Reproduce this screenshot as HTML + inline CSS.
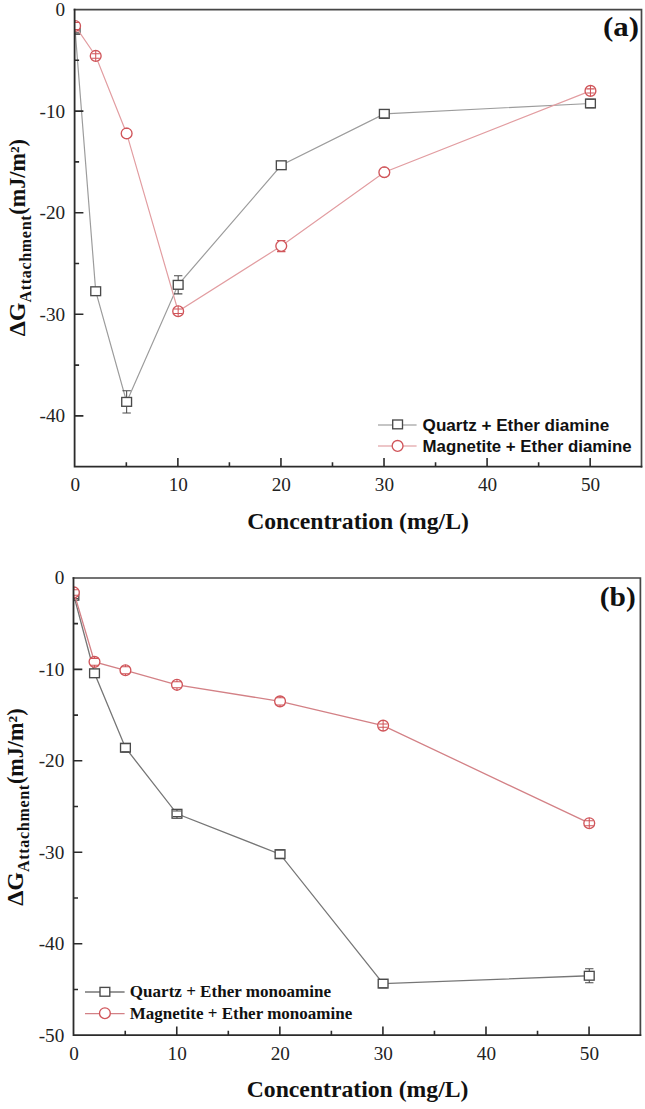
<!DOCTYPE html>
<html><head><meta charset="utf-8"><title>Figure</title>
<style>
html,body{margin:0;padding:0;background:#fff}
body{width:645px;height:1109px;overflow:hidden;font-family:"Liberation Serif",serif}
svg{display:block}
.tk{font:19.2px "Liberation Serif",serif;fill:#222}
</style></head><body>
<svg width="645" height="1109" viewBox="0 0 645 1109">
<rect width="645" height="1109" fill="#fff"/>
<!-- panel a -->
<clipPath id="clipa"><rect x="74.6" y="9.5" width="572.9" height="457.2"/></clipPath>
<g clip-path="url(#clipa)">
<polyline points="75.10,29.82 95.71,291.24 126.64,401.88 178.17,284.84 281.25,165.25 384.32,113.84 590.46,103.48" fill="none" stroke="#9c9c9c" stroke-width="1.2"/>
<rect x="70.20" y="25.42" width="9.8" height="8.8" fill="#fff" stroke="#4a4a4a" stroke-width="1.35"/>
<path d="M70.90 26.77H79.30M75.10 25.42V26.77" stroke="#4a4a4a" stroke-width="1.05" fill="none"/>
<path d="M70.90 32.87H79.30M75.10 34.22V32.87" stroke="#4a4a4a" stroke-width="1.05" fill="none"/>
<rect x="90.81" y="286.84" width="9.8" height="8.8" fill="#fff" stroke="#4a4a4a" stroke-width="1.35"/>
<rect x="121.74" y="397.48" width="9.8" height="8.8" fill="#fff" stroke="#4a4a4a" stroke-width="1.35"/>
<path d="M122.44 390.70H130.84M126.64 397.48V390.70" stroke="#4a4a4a" stroke-width="1.05" fill="none"/>
<path d="M122.44 413.06H130.84M126.64 406.28V413.06" stroke="#4a4a4a" stroke-width="1.05" fill="none"/>
<rect x="173.27" y="280.44" width="9.8" height="8.8" fill="#fff" stroke="#4a4a4a" stroke-width="1.35"/>
<path d="M173.97 275.79H182.37M178.17 280.44V275.79" stroke="#4a4a4a" stroke-width="1.05" fill="none"/>
<path d="M173.97 293.88H182.37M178.17 289.24V293.88" stroke="#4a4a4a" stroke-width="1.05" fill="none"/>
<rect x="276.35" y="160.85" width="9.8" height="8.8" fill="#fff" stroke="#4a4a4a" stroke-width="1.35"/>
<rect x="379.42" y="109.44" width="9.8" height="8.8" fill="#fff" stroke="#4a4a4a" stroke-width="1.35"/>
<path d="M380.12 109.58H388.52M384.32 109.44V109.58" stroke="#4a4a4a" stroke-width="1.05" fill="none"/>
<path d="M380.12 118.11H388.52M384.32 118.24V118.11" stroke="#4a4a4a" stroke-width="1.05" fill="none"/>
<rect x="585.56" y="99.08" width="9.8" height="8.8" fill="#fff" stroke="#4a4a4a" stroke-width="1.35"/>
<path d="M586.26 99.21H594.66M590.46 99.08V99.21" stroke="#4a4a4a" stroke-width="1.05" fill="none"/>
<path d="M586.26 107.75H594.66M590.46 107.88V107.75" stroke="#4a4a4a" stroke-width="1.05" fill="none"/>
<polyline points="75.10,25.96 95.71,55.93 126.64,133.45 178.17,311.25 281.25,246.02 384.32,172.26 590.46,90.88" fill="none" stroke="#e29da1" stroke-width="1.2"/>
<circle cx="75.10" cy="25.96" r="5.4" fill="#fff" stroke="#d0555a" stroke-width="1.35"/>
<path d="M70.90 22.40H79.30M75.10 20.56V22.40" stroke="#d0555a" stroke-width="1.05" fill="none"/>
<path d="M70.90 29.52H79.30M75.10 31.36V29.52" stroke="#d0555a" stroke-width="1.05" fill="none"/>
<circle cx="95.71" cy="55.93" r="5.4" fill="#fff" stroke="#d0555a" stroke-width="1.35"/>
<path d="M91.51 53.70H99.91M95.71 50.53V55.93" stroke="#d0555a" stroke-width="1.05" fill="none"/>
<path d="M91.51 58.17H99.91M95.71 61.33V55.93" stroke="#d0555a" stroke-width="1.05" fill="none"/>
<circle cx="126.64" cy="133.45" r="5.4" fill="#fff" stroke="#d0555a" stroke-width="1.35"/>
<path d="M124.51 128.37H128.77M126.64 128.05V128.37" stroke="#d0555a" stroke-width="1.05" fill="none"/>
<path d="M124.51 138.53H128.77M126.64 138.85V138.53" stroke="#d0555a" stroke-width="1.05" fill="none"/>
<circle cx="178.17" cy="311.25" r="5.4" fill="#fff" stroke="#d0555a" stroke-width="1.35"/>
<path d="M173.97 309.02H182.37M178.17 305.85V311.25" stroke="#d0555a" stroke-width="1.05" fill="none"/>
<path d="M173.97 313.49H182.37M178.17 316.65V311.25" stroke="#d0555a" stroke-width="1.05" fill="none"/>
<circle cx="281.25" cy="246.02" r="5.4" fill="#fff" stroke="#d0555a" stroke-width="1.35"/>
<path d="M277.05 240.44H285.45M281.25 240.62V240.44" stroke="#d0555a" stroke-width="1.05" fill="none"/>
<path d="M277.05 251.61H285.45M281.25 251.42V251.61" stroke="#d0555a" stroke-width="1.05" fill="none"/>
<circle cx="384.32" cy="172.26" r="5.4" fill="#fff" stroke="#d0555a" stroke-width="1.35"/>
<path d="M382.19 167.18H386.45M384.32 166.86V167.18" stroke="#d0555a" stroke-width="1.05" fill="none"/>
<path d="M382.19 177.34H386.45M384.32 177.66V177.34" stroke="#d0555a" stroke-width="1.05" fill="none"/>
<circle cx="590.46" cy="90.88" r="5.4" fill="#fff" stroke="#d0555a" stroke-width="1.35"/>
<path d="M586.26 88.85H594.66M590.46 85.48V90.88" stroke="#d0555a" stroke-width="1.05" fill="none"/>
<path d="M586.26 92.91H594.66M590.46 96.28V90.88" stroke="#d0555a" stroke-width="1.05" fill="none"/>
</g>
<path d="M73.69999999999999 9.6H642.35M641.5 9.5V467.59999999999997" fill="none" stroke="#464646" stroke-width="1.7"/>
<path d="M74.6 8.75V466.7M73.69999999999999 466.7H642.35" fill="none" stroke="#2b2b2b" stroke-width="1.8"/>
<path d="M126.34 466.7v-4.5 M177.87 466.7v-8.8 M229.41 466.7v-4.5 M280.95 466.7v-8.8 M332.48 466.7v-4.5 M384.02 466.7v-8.8 M435.55 466.7v-4.5 M487.09 466.7v-8.8 M538.63 466.7v-4.5 M590.16 466.7v-8.8 M74.6 60.30h4.5 M74.6 111.10h8.8 M74.6 161.90h4.5 M74.6 212.70h8.8 M74.6 263.50h4.5 M74.6 314.30h8.8 M74.6 365.10h4.5 M74.6 415.90h8.8" stroke="#2b2b2b" stroke-width="1.6" fill="none"/>
<text class="tk" x="75.20" y="491.2" text-anchor="middle">0</text>
<text class="tk" x="178.27" y="491.2" text-anchor="middle">10</text>
<text class="tk" x="281.35" y="491.2" text-anchor="middle">20</text>
<text class="tk" x="384.42" y="491.2" text-anchor="middle">30</text>
<text class="tk" x="487.49" y="491.2" text-anchor="middle">40</text>
<text class="tk" x="590.56" y="491.2" text-anchor="middle">50</text>
<text class="tk" x="65.2" y="15.90" text-anchor="end">0</text>
<text class="tk" x="65.2" y="117.50" text-anchor="end">-10</text>
<text class="tk" x="65.2" y="219.10" text-anchor="end">-20</text>
<text class="tk" x="65.2" y="320.70" text-anchor="end">-30</text>
<text class="tk" x="65.2" y="422.30" text-anchor="end">-40</text>
<text x="603.0" y="36.4" textLength="36" lengthAdjust="spacingAndGlyphs" style="font:bold 28px 'Liberation Serif',serif" fill="#111">(a)</text>
<path d="M378.0 425.0H416.6" stroke="#8c8c8c" stroke-width="1.2"/>
<rect x="392.70" y="420.00" width="9.8" height="8.8" fill="#fff" stroke="#4a4a4a" stroke-width="1.35"/>
<text x="422.6" y="430.50" textLength="186.6" lengthAdjust="spacingAndGlyphs" style="font:bold 16px 'Liberation Sans',sans-serif" fill="#111">Quartz + Ether diamine</text>
<path d="M378.0 446.0H416.6" stroke="#dc8d92" stroke-width="1.2"/>
<circle cx="397.6" cy="445.9" r="5.4" fill="#fff" stroke="#d0555a" stroke-width="1.35"/>
<text x="422.6" y="451.50" textLength="209.0" lengthAdjust="spacingAndGlyphs" style="font:bold 16px 'Liberation Sans',sans-serif" fill="#111">Magnetite + Ether diamine</text>
<text transform="translate(25.3,336.3) rotate(-90)" style="font:bold 24px 'Liberation Serif',serif" fill="#111">ΔG<tspan dy="6" style="font-size:16px;letter-spacing:0.7px">Attachment</tspan><tspan dy="-6" style="font-size:22.2px">(mJ/m²)</tspan></text>
<text x="358.0" y="529" text-anchor="middle" style="font:bold 23.7px 'Liberation Serif',serif" fill="#111">Concentration (mg/L)</text>
<!-- panel b -->
<clipPath id="clipb"><rect x="73.5" y="577.9" width="572.9" height="457.30000000000007"/></clipPath>
<g clip-path="url(#clipb)">
<polyline points="73.90,595.73 94.51,673.29 125.44,747.74 176.97,813.78 280.05,854.20 383.12,983.62 589.26,975.75" fill="none" stroke="#767676" stroke-width="1.3"/>
<rect x="69.00" y="591.33" width="9.8" height="8.8" fill="#fff" stroke="#4a4a4a" stroke-width="1.35"/>
<path d="M69.70 592.99H78.10M73.90 591.33V592.99" stroke="#4a4a4a" stroke-width="1.05" fill="none"/>
<path d="M69.70 598.48H78.10M73.90 600.13V598.48" stroke="#4a4a4a" stroke-width="1.05" fill="none"/>
<rect x="89.61" y="668.89" width="9.8" height="8.8" fill="#fff" stroke="#4a4a4a" stroke-width="1.35"/>
<rect x="120.54" y="743.34" width="9.8" height="8.8" fill="#fff" stroke="#4a4a4a" stroke-width="1.35"/>
<path d="M121.24 743.63H129.64M125.44 743.34V743.63" stroke="#4a4a4a" stroke-width="1.05" fill="none"/>
<path d="M121.24 751.86H129.64M125.44 752.14V751.86" stroke="#4a4a4a" stroke-width="1.05" fill="none"/>
<rect x="172.07" y="809.38" width="9.8" height="8.8" fill="#fff" stroke="#4a4a4a" stroke-width="1.35"/>
<path d="M172.77 811.03H181.17M176.97 809.38V811.03" stroke="#4a4a4a" stroke-width="1.05" fill="none"/>
<path d="M172.77 816.52H181.17M176.97 818.18V816.52" stroke="#4a4a4a" stroke-width="1.05" fill="none"/>
<rect x="275.15" y="849.80" width="9.8" height="8.8" fill="#fff" stroke="#4a4a4a" stroke-width="1.35"/>
<path d="M275.85 850.08H284.25M280.05 849.80V850.08" stroke="#4a4a4a" stroke-width="1.05" fill="none"/>
<path d="M275.85 858.32H284.25M280.05 858.60V858.32" stroke="#4a4a4a" stroke-width="1.05" fill="none"/>
<rect x="378.22" y="979.22" width="9.8" height="8.8" fill="#fff" stroke="#4a4a4a" stroke-width="1.35"/>
<path d="M378.92 979.50H387.32M383.12 979.22V979.50" stroke="#4a4a4a" stroke-width="1.05" fill="none"/>
<path d="M378.92 987.73H387.32M383.12 988.02V987.73" stroke="#4a4a4a" stroke-width="1.05" fill="none"/>
<rect x="584.36" y="971.35" width="9.8" height="8.8" fill="#fff" stroke="#4a4a4a" stroke-width="1.35"/>
<path d="M585.06 968.71H593.46M589.26 971.35V968.71" stroke="#4a4a4a" stroke-width="1.05" fill="none"/>
<path d="M585.06 982.79H593.46M589.26 980.15V982.79" stroke="#4a4a4a" stroke-width="1.05" fill="none"/>
<polyline points="73.90,592.44 94.51,661.86 125.44,670.27 176.97,684.82 280.05,701.37 383.12,725.61 589.26,823.20" fill="none" stroke="#d38186" stroke-width="1.3"/>
<circle cx="73.90" cy="592.44" r="5.4" fill="#fff" stroke="#d0555a" stroke-width="1.35"/>
<path d="M69.70 589.70H78.10M73.90 587.04V589.70" stroke="#d0555a" stroke-width="1.05" fill="none"/>
<path d="M69.70 595.19H78.10M73.90 597.84V595.19" stroke="#d0555a" stroke-width="1.05" fill="none"/>
<circle cx="94.51" cy="661.86" r="5.4" fill="#fff" stroke="#d0555a" stroke-width="1.35"/>
<path d="M90.31 658.38H98.71M94.51 656.46V658.38" stroke="#d0555a" stroke-width="1.05" fill="none"/>
<path d="M90.31 665.34H98.71M94.51 667.26V665.34" stroke="#d0555a" stroke-width="1.05" fill="none"/>
<circle cx="125.44" cy="670.27" r="5.4" fill="#fff" stroke="#d0555a" stroke-width="1.35"/>
<path d="M121.24 666.80H129.64M125.44 664.87V666.80" stroke="#d0555a" stroke-width="1.05" fill="none"/>
<path d="M121.24 673.75H129.64M125.44 675.67V673.75" stroke="#d0555a" stroke-width="1.05" fill="none"/>
<circle cx="176.97" cy="684.82" r="5.4" fill="#fff" stroke="#d0555a" stroke-width="1.35"/>
<path d="M172.77 681.80H181.17M176.97 679.42V681.80" stroke="#d0555a" stroke-width="1.05" fill="none"/>
<path d="M172.77 687.83H181.17M176.97 690.22V687.83" stroke="#d0555a" stroke-width="1.05" fill="none"/>
<circle cx="280.05" cy="701.37" r="5.4" fill="#fff" stroke="#d0555a" stroke-width="1.35"/>
<path d="M275.85 697.71H284.25M280.05 695.97V697.71" stroke="#d0555a" stroke-width="1.05" fill="none"/>
<path d="M275.85 705.03H284.25M280.05 706.77V705.03" stroke="#d0555a" stroke-width="1.05" fill="none"/>
<circle cx="383.12" cy="725.61" r="5.4" fill="#fff" stroke="#d0555a" stroke-width="1.35"/>
<path d="M378.92 724.05H387.32M383.12 720.21V725.61" stroke="#d0555a" stroke-width="1.05" fill="none"/>
<path d="M378.92 727.16H387.32M383.12 731.01V725.61" stroke="#d0555a" stroke-width="1.05" fill="none"/>
<circle cx="589.26" cy="823.20" r="5.4" fill="#fff" stroke="#d0555a" stroke-width="1.35"/>
<path d="M585.06 820.73H593.46M589.26 817.80V823.20" stroke="#d0555a" stroke-width="1.05" fill="none"/>
<path d="M585.06 825.67H593.46M589.26 828.60V823.20" stroke="#d0555a" stroke-width="1.05" fill="none"/>
</g>
<path d="M72.6 578.0H641.25M640.4 577.9V1036.1000000000001" fill="none" stroke="#464646" stroke-width="1.7"/>
<path d="M73.5 577.15V1035.2M72.6 1035.2H641.25" fill="none" stroke="#2b2b2b" stroke-width="1.8"/>
<path d="M125.24 1035.2v-4.5 M176.77 1035.2v-8.8 M228.31 1035.2v-4.5 M279.85 1035.2v-8.8 M331.38 1035.2v-4.5 M382.92 1035.2v-8.8 M434.45 1035.2v-4.5 M485.99 1035.2v-8.8 M537.53 1035.2v-4.5 M589.06 1035.2v-8.8 M73.5 623.63h4.5 M73.5 669.36h8.8 M73.5 715.09h4.5 M73.5 760.82h8.8 M73.5 806.55h4.5 M73.5 852.28h8.8 M73.5 898.01h4.5 M73.5 943.74h8.8 M73.5 989.47h4.5" stroke="#2b2b2b" stroke-width="1.6" fill="none"/>
<text class="tk" x="74.10" y="1059.8" text-anchor="middle">0</text>
<text class="tk" x="177.17" y="1059.8" text-anchor="middle">10</text>
<text class="tk" x="280.25" y="1059.8" text-anchor="middle">20</text>
<text class="tk" x="383.32" y="1059.8" text-anchor="middle">30</text>
<text class="tk" x="486.39" y="1059.8" text-anchor="middle">40</text>
<text class="tk" x="589.46" y="1059.8" text-anchor="middle">50</text>
<text class="tk" x="64.3" y="584.30" text-anchor="end">0</text>
<text class="tk" x="64.3" y="675.76" text-anchor="end">-10</text>
<text class="tk" x="64.3" y="767.22" text-anchor="end">-20</text>
<text class="tk" x="64.3" y="858.68" text-anchor="end">-30</text>
<text class="tk" x="64.3" y="950.14" text-anchor="end">-40</text>
<text class="tk" x="64.3" y="1041.60" text-anchor="end">-50</text>
<text x="599.8" y="606.0" textLength="36" lengthAdjust="spacingAndGlyphs" style="font:bold 28px 'Liberation Serif',serif" fill="#111">(b)</text>
<path d="M85.0 992.0H124.6" stroke="#767676" stroke-width="1.4"/>
<rect x="100.00" y="987.40" width="9.8" height="8.8" fill="#fff" stroke="#4a4a4a" stroke-width="1.35"/>
<text x="129.8" y="997.20" textLength="201.2" lengthAdjust="spacingAndGlyphs" style="font:bold 16.3px 'Liberation Serif',serif" fill="#111">Quartz + Ether monoamine</text>
<path d="M85.0 1013.6H124.6" stroke="#d38186" stroke-width="1.4"/>
<circle cx="104.9" cy="1013.2" r="5.4" fill="#fff" stroke="#d0555a" stroke-width="1.35"/>
<text x="129.8" y="1018.80" textLength="222.4" lengthAdjust="spacingAndGlyphs" style="font:bold 16.3px 'Liberation Serif',serif" fill="#111">Magnetite + Ether monoamine</text>
<text transform="translate(23.4,905.7) rotate(-90)" style="font:bold 24px 'Liberation Serif',serif" fill="#111">ΔG<tspan dy="6" style="font-size:16px;letter-spacing:0.7px">Attachment</tspan><tspan dy="-6" style="font-size:22.2px">(mJ/m²)</tspan></text>
<text x="357.6" y="1097.3" text-anchor="middle" style="font:bold 23.7px 'Liberation Serif',serif" fill="#111">Concentration (mg/L)</text>
</svg>
</body></html>
